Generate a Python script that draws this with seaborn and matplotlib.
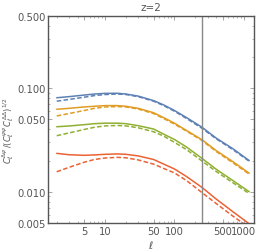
import numpy as np
import seaborn as sns
import matplotlib.pyplot as plt
from matplotlib.ticker import FixedLocator, FixedFormatter, NullFormatter

ell = [2, 3, 5, 7, 10, 15, 20, 30, 50, 70, 100, 150, 250, 400, 700, 1200]

blue_solid = [0.081, 0.083, 0.086, 0.088, 0.0893, 0.0895, 0.088, 0.084, 0.076, 0.069, 0.061, 0.052, 0.042, 0.033, 0.026, 0.020]
blue_dash = [0.075, 0.078, 0.082, 0.085, 0.087, 0.088, 0.087, 0.083, 0.075, 0.068, 0.060, 0.051, 0.041, 0.0325, 0.0255, 0.0197]
orange_solid = [0.0627, 0.064, 0.066, 0.067, 0.068, 0.068, 0.067, 0.064, 0.058, 0.052, 0.046, 0.039, 0.0318, 0.025, 0.0195, 0.0151]
orange_dash = [0.054, 0.057, 0.061, 0.064, 0.066, 0.0665, 0.066, 0.063, 0.057, 0.051, 0.045, 0.0385, 0.0312, 0.0245, 0.019, 0.0148]
green_solid = [0.0425, 0.0432, 0.0445, 0.0455, 0.046, 0.046, 0.0455, 0.0435, 0.0404, 0.036, 0.032, 0.027, 0.021, 0.0165, 0.0128, 0.010]
green_dash = [0.0348, 0.037, 0.040, 0.042, 0.0433, 0.0437, 0.0433, 0.0415, 0.038, 0.0345, 0.030, 0.0255, 0.0198, 0.0157, 0.0122, 0.0096]
red_solid = [0.0235, 0.0228, 0.0225, 0.0227, 0.023, 0.0232, 0.023, 0.0222, 0.0205, 0.0185, 0.0166, 0.014, 0.011, 0.0085, 0.0064, 0.0049]
red_dash = [0.0156, 0.0172, 0.0193, 0.0205, 0.0212, 0.0215, 0.0213, 0.0203, 0.0185, 0.0168, 0.0152, 0.0128, 0.0098, 0.0077, 0.0058, 0.0045]

ell_cut = 250
xticks = [5, 10, 50, 100, 500, 1000]
xtick_labels = ["5", "10", "50", "100", "500", "1000"]
yticks = [0.005, 0.01, 0.05, 0.1, 0.5]
ytick_labels = ["0.005", "0.010", "0.050", "0.100", "0.500"]

sns.set_style("ticks")
plt.rcParams['font.family'] = ['DejaVu Sans']

fig = plt.figure(figsize=(2.73, 2.53), dpi=100)
ax = fig.add_axes([0.176, 0.115, 0.754, 0.818])

series = [
    (blue_solid, "#5E81B5", False), (blue_dash, "#5E81B5", True),
    (orange_solid, "#E19C24", False), (orange_dash, "#E19C24", True),
    (green_solid, "#8FB032", False), (green_dash, "#8FB032", True),
    (red_solid, "#EB6235", False), (red_dash, "#EB6235", True),
]
for vals, col, dashed in series:
    line = sns.lineplot(x=ell, y=vals, color=col, lw=1.1, ax=ax).lines[-1]
    if dashed:
        line.set_dashes((3, 1.5))

ax.axvline(ell_cut, color="#888888", lw=1.0)

ax.set_xscale("log")
ax.set_yscale("log")
ax.set_xlim(1.5, 1400)
ax.set_ylim(0.005, 0.5)

ax.xaxis.set_major_locator(FixedLocator(xticks))
ax.xaxis.set_major_formatter(FixedFormatter(xtick_labels))
ax.xaxis.set_minor_formatter(NullFormatter())
ax.yaxis.set_major_locator(FixedLocator(yticks))
ax.yaxis.set_major_formatter(FixedFormatter(ytick_labels))
ax.yaxis.set_minor_formatter(NullFormatter())

ax.tick_params(which="both", direction="in", top=True, right=True, colors="#999999",
               labelcolor="#555555", labelsize=7.2, pad=2)
ax.tick_params(which="major", length=3, width=0.6)
ax.tick_params(which="minor", length=1.5, width=0.5)
for s in ax.spines.values():
    s.set_color("#555555")
    s.set_linewidth(1.0)

ax.set_title("z=2", fontsize=7.5, color="#555555", pad=4)
ax.set_xlabel(r"$\ell$", fontsize=7.5, color="#555555", labelpad=2)
ax.set_ylabel(r"$C_\ell^{\Delta\psi}\,/(C_\ell^{\psi\psi}\,C_\ell^{\Delta\Delta})^{1/2}$",
              fontsize=6, color="#555555", labelpad=0)
ax.yaxis.set_label_coords(-0.155, 0.45)

fig.savefig("out.png", dpi=100)
